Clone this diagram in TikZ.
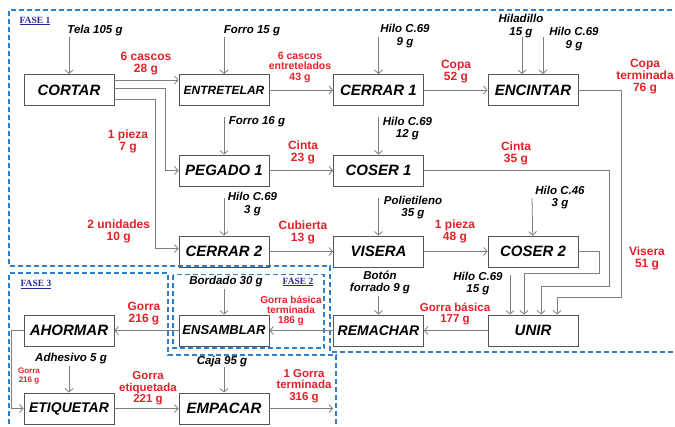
\documentclass[tikz,border=0pt]{standalone}
\usepackage{fontspec}
\setmainfont{Liberation Sans}
\newfontfamily\fasefont{Liberation Serif}
\usepackage{xcolor}
\usetikzlibrary{arrows.meta}
\definecolor{qred}{RGB}{228,32,40}
\definecolor{boxgray}{RGB}{85,85,85}
\definecolor{flowgray}{RGB}{125,125,125}
\definecolor{faseblue}{RGB}{48,126,206}
\definecolor{fasenavy}{RGB}{40,40,150}

\begin{document}
\begin{tikzpicture}[x=1pt,y=-1pt,
  proc/.style={draw=boxgray,line width=0.9pt,minimum width=90pt,minimum height=31pt,inner sep=0pt},
  inp/.style={font=\bfseries\itshape\fontsize{11.5}{12.5}\selectfont,align=center,inner sep=0pt},
  qty/.style={text=qred,font=\bfseries\fontsize{#1}{#1}\selectfont,align=center,inner sep=0pt},
  qty/.default=12,
  flow/.style={draw=flowgray,line width=0.8pt,-{Straight Barb[length=3.5pt,width=8pt]}},
  fase/.style={draw=faseblue,line width=1.4pt,dash pattern=on 5pt off 3pt},
  faselbl/.style={text=fasenavy,font=\fasefont\bfseries\fontsize{9.5}{9.5}\selectfont,inner sep=0pt}]
  \useasboundingbox (0,0) rectangle (675,426);
  % Phase frames
  \draw[fase] (680,10) -- (9,10) -- (9,266) -- (330,266) -- (330,352) -- (680,352);
  \draw[fase] (9,432) -- (9,273) -- (168,273) -- (168,355) -- (336,355) -- (336,432);
  \draw[fase] (173,274.5) rectangle (324,348);
  \node[faselbl] (fA) at (35,21) {\underline{FASE 1}};
  \node[faselbl] (fB) at (298,282) {\underline{FASE 2}};
  \node[faselbl] (fC) at (36,284.5) {\underline{FASE 3}};
  % Processes
  \foreach \n/\x/\y/\s/\t in {cortar/69/90/15/CORTAR, entretelar/224/90/12/ENTRETELAR,
      cerrarA/378.5/90/15/CERRAR 1, encintar/533/90/15/ENCINTAR,
      pegado/224/170.5/15/PEGADO 1, coserA/378.5/170.5/15/COSER 1,
      cerrarB/224/251.5/15/CERRAR 2, visera/378.5/251.5/15/VISERA, coserB/533/251.5/15/COSER 2,
      ahormar/69/330.5/15/AHORMAR, ensamblar/224/330.5/13/ENSAMBLAR,
      remachar/378.5/330.5/14/REMACHAR, unir/533/330.5/15/UNIR,
      etiquetar/69/408.5/14/ETIQUETAR, empacar/224/408.5/15/EMPACAR}{
    \node[proc,font=\bfseries\itshape\fontsize{\s}{\s}\selectfont] (\n) at (\x,\y) {\t};
  }
  % Inputs
  \node[inp] (tTela) at (95,31) {Tela 105 g};
  \node[inp] (tForroA) at (252,31) {Forro 15 g};
  \node[inp] (tHiloA) at (405,36) {Hilo C.69\\9 g};
  \node[inp] (tHiladillo) at (521,26) {Hiladillo\\15 g};
  \node[inp] (tHiloB) at (574,39) {Hilo C.69\\9 g};
  \node[inp] (tForroB) at (257,122) {Forro 16 g};
  \node[inp] (tHiloC) at (407.5,128.5) {Hilo C.69\\12 g};
  \node[inp] (tHiloD) at (252.5,204) {Hilo C.69\\3 g};
  \node[inp] (tPoli) at (413,207.5) {Polietileno\\35 g};
  \node[inp] (tHiloE) at (560,197.5) {Hilo C.46\\3 g};
  \node[inp] (tBoton) at (380,282.5) {Botón\\forrado 9 g};
  \node[inp] (tHiloF) at (478,283.5) {Hilo C.69\\15 g};
  \node[inp] (tBordado) at (226,281.5) {Bordado 30 g};
  \node[inp] (tAdhesivo) at (71,359) {Adhesivo 5 g};
  \node[inp] (tCaja) at (222,362) {Caja 95 g};
  \coordinate (inTela) at (69,37);
  \coordinate (inForroA) at (224,37);
  \coordinate (inHiloA) at (378.5,37);
  \coordinate (inHiladillo) at (522,37);
  \coordinate (inHiloB) at (543,37);
  \coordinate (inForroB) at (224,117);
  \coordinate (inHiloC) at (378.5,117);
  \coordinate (inHiloD) at (224,198);
  \coordinate (inPoli) at (378.5,198);
  \coordinate (inHiloE) at (532,198);
  \coordinate (inBoton) at (378.5,296);
  \coordinate (inHiloF) at (510,275);
  \coordinate (inBordado) at (224,289);
  \coordinate (inAdhesivo) at (69,366);
  \coordinate (inCaja) at (224,367);
  \coordinate (salida) at (333,408.5);
  \draw[flow] (inTela) -- (cortar);
  \draw[flow] (inForroA) -- (entretelar);
  \draw[flow] (inHiloA) -- (cerrarA);
  \draw[flow] (inHiladillo) -- ([xshift=-11pt]encintar.north);
  \draw[flow] (inHiloB) -- ([xshift=10pt]encintar.north);
  \draw[flow] (inForroB) -- (pegado);
  \draw[flow] (inHiloC) -- (coserA);
  \draw[flow] (inHiloD) -- (cerrarB);
  \draw[flow] (inPoli) -- (visera);
  \draw[flow] (inHiloE) -- (coserB);
  \draw[flow] (inBoton) -- (remachar);
  \draw[flow] (inHiloF) -- ([xshift=-23pt]unir.north);
  \draw[flow] (inBordado) -- (ensamblar);
  \draw[flow] (inAdhesivo) -- (etiquetar);
  \draw[flow] (inCaja) -- (empacar);
  % Product flow
  \draw[flow] ([yshift=10pt]cortar.east) -- ([yshift=10pt]entretelar.west);
  \draw[flow] ([yshift=2pt]cortar.east) -| ([xshift=-13pt]pegado.west) -- (pegado.west);
  \draw[flow] ([yshift=-9pt]cortar.east) -| ([xshift=-23pt,yshift=3pt]cerrarB.west) -- ([yshift=3pt]cerrarB.west);
  \draw[flow] (entretelar) -- (cerrarA);
  \draw[flow] (cerrarA) -- (encintar);
  \draw[flow] (pegado) -- (coserA);
  \draw[flow] (cerrarB) -- (visera);
  \draw[flow] (visera) -- (coserB);
  \draw[flow] (encintar.east) -| ([xshift=88pt,yshift=17pt]unir.north) -| ([xshift=24pt]unir.north);
  \draw[flow] (coserA.east) -| ([xshift=76pt,yshift=28pt]unir.north) -| ([xshift=8pt]unir.north);
  \draw[flow] (coserB.east) -| ([xshift=66pt,yshift=41pt]unir.north) -| ([xshift=-9pt]unir.north);
  \draw[flow] (unir) -- (remachar);
  \draw[flow] (remachar) -- (ensamblar);
  \draw[flow] (ensamblar) -- (ahormar);
  \draw[flow] (ahormar.west) -| ([xshift=-12pt]etiquetar.west) -- (etiquetar.west);
  \draw[flow] (etiquetar) -- (empacar);
  \draw[flow] (empacar) -- (salida);
  % Quantities
  \node[qty] (qA) at (146,64) {6 cascos\\28 g};
  \node[qty=10.5] (qB) at (300,67) {6 cascos\\entretelados\\43 g};
  \node[qty] (qC) at (456,72) {Copa\\52 g};
  \node[qty] (qD) at (645,76.5) {Copa\\terminada\\76 g};
  \node[qty] (qE) at (128,141) {1 pieza\\7 g};
  \node[qty] (qF) at (303,152.5) {Cinta\\23 g};
  \node[qty] (qG) at (516,153) {Cinta\\35 g};
  \node[qty] (qH) at (118.7,231.5) {2 unidades\\10 g};
  \node[qty] (qI) at (303,232.5) {Cubierta\\13 g};
  \node[qty] (qJ) at (455,231.5) {1 pieza\\48 g};
  \node[qty] (qK) at (647,258.5) {Visera\\51 g};
  \node[qty=11.5] (qL) at (455,314) {Gorra básica\\177 g};
  \node[qty=10] (qM) at (291,311) {Gorra básica\\terminada\\186 g};
  \node[qty] (qN) at (144,313.5) {Gorra\\216 g};
  \node[qty=8,font=\bfseries\fontsize{8}{9}\selectfont] (qO) at (29,376.5) {Gorra\\216 g};
  \node[qty=11.5] (qP) at (148,388.5) {Gorra\\etiquetada\\221 g};
  \node[qty=11.5] (qQ) at (304,386) {1 Gorra\\terminada\\316 g};
\end{tikzpicture}
\end{document}
